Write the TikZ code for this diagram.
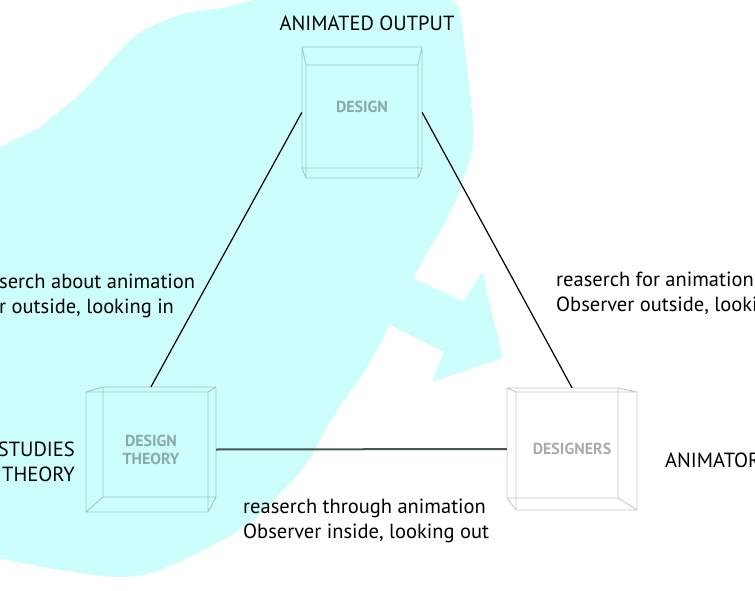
\documentclass[tikz,border=0pt]{standalone}
\usepackage{fontspec}
\setmainfont{PT Sans}
\usepackage{tikz}
\definecolor{blob}{RGB}{204,255,251}
\definecolor{link}{RGB}{70,85,85}

\begin{document}
\begin{tikzpicture}[x=1pt,y=-1pt,
  lbl/.style={font=\fontsize{20.5}{25}\selectfont, align=left, inner sep=0pt},
  box/.style={font=\fontsize{16}{18}\selectfont\bfseries, text opacity=0.33, align=center, inner sep=0pt},
  cube/.style={draw=black, draw opacity=0.22, line width=0.9pt}]
\useasboundingbox (0,0) rectangle (755,591);
\clip (0,0) rectangle (755,591);
\fill[blob] (-5,150) -- plot[smooth, tension=0.6] coordinates {(-5,150) (20,137) (40,127) (57,113) (77,97) (100,73) (127,43) (150,27) (187,13) (227,7) (267,-4)} -- (440,-4)
  -- plot[smooth, tension=0.6] coordinates {(440,-4) (457,5) (462,25) (467,67) (473,123) (472,150) (463,180) (453,207) (433,243) (413,278)}
  -- (463,302) -- (482,272) -- (503,358) -- (432,382) -- (444,352) -- (390,325)
  -- plot[smooth, tension=0.6] coordinates {(390,325) (367,367) (333,417) (307,463) (283,490) (250,523) (217,543) (183,560) (150,573) (117,577) (67,571) (17,562) (-5,557)} -- cycle;
\foreach \a/\b/\c/\d/\e/\f/\g/\h in {302/47/422/168/306/65/418/178, 103/387/216/497/86/392/208/512, 507/388/618/498/516/392/637/510}
  \draw[cube] (\a,\b) rectangle (\c,\d) (\e,\f) rectangle (\g,\h) (\a,\b) -- (\e,\f) (\c,\b) -- (\g,\f) (\a,\d) -- (\e,\h) (\c,\d) -- (\g,\h);
\node[box, minimum width=120, minimum height=131, text depth=12pt] (design) at (362,112.5) {DESIGN};
\node[box, minimum width=130, minimum height=125] (theory) at (151,449.5) {DESIGN\\THEORY};
\node[box, minimum width=130, minimum height=122] (designers) at (572,449) {DESIGNERS};
\draw[line width=1.2pt] (design.west) -- (theory.north);
\draw[line width=1.2pt] (design.east) -- (designers.north);
\draw[link, line width=2pt] (theory.east) -- (designers.west);
\node[lbl, anchor=base] (output) at (367,31) {ANIMATED OUTPUT};
\node[lbl, anchor=base west] (about) at (-1,313) {serch about animation\\r outside, looking in};
\node[lbl, anchor=base west] (for) at (556,311) {reaserch for animation\\Observer outside, looking in};
\node[lbl, anchor=base west] (through) at (243,538) {reaserch through animation\\Observer inside, looking out};
\node[lbl, anchor=base east, align=right] (studies) at (75,481) {STUDIES\\THEORY};
\node[lbl, anchor=base west] (animators) at (665,467) {ANIMATORS};
\end{tikzpicture}
\end{document}
